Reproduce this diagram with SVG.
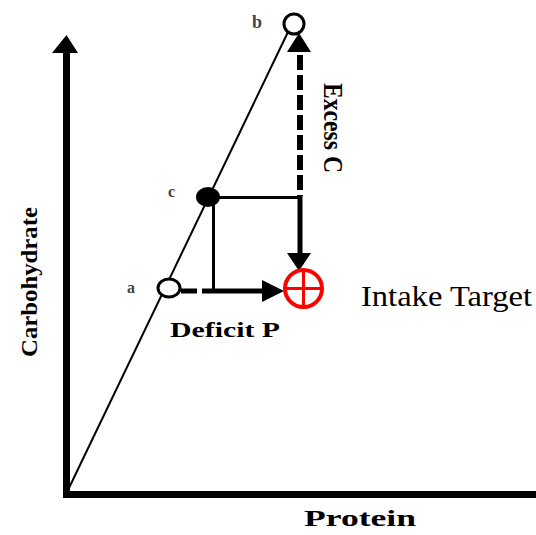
<svg xmlns="http://www.w3.org/2000/svg" width="536" height="535" viewBox="0 0 536 535">
<style>
.bm{font-family:"Liberation Serif","DejaVu Serif",serif;font-weight:bold;fill:#000}
.lbl{font-family:"Liberation Serif","DejaVu Serif",serif;fill:#444}
.ax{stroke:#000;fill:none}
.thin{stroke:#000;stroke-width:2;fill:none}
.red{stroke:#ff0000;fill:none}
</style>
<rect width="536" height="535" fill="#fff"/>
<g id="axes">
<line class="ax" x1="66.5" y1="50" x2="66.5" y2="497" stroke-width="7"/>
<polygon points="66.5,35 52,53 78,53" fill="#000"/>
<line class="ax" x1="63" y1="494.5" x2="536" y2="494.5" stroke-width="7"/>
<text class="bm" transform="translate(37,357) rotate(-90)" font-size="24" textLength="150" lengthAdjust="spacingAndGlyphs">Carbohydrate</text>
<text class="bm" x="304" y="526" font-size="24" textLength="112" lengthAdjust="spacingAndGlyphs">Protein</text>
</g>
<g id="connectors">
<line class="thin" x1="68" y1="490" x2="288" y2="32"/>
<line class="ax" x1="300" y1="55" x2="300" y2="196" stroke-width="6" stroke-dasharray="15 5"/>
<polygon points="299,33 287,52 311,52" fill="#000"/>
<line class="ax" x1="300" y1="196" x2="300" y2="256" stroke-width="5"/>
<polygon points="287,253 311,253 299,271" fill="#000"/>
<line class="ax" x1="214" y1="197.5" x2="300" y2="197.5" stroke-width="3"/>
<line class="ax" x1="213.5" y1="197" x2="213.5" y2="292" stroke-width="3"/>
<line class="ax" x1="181" y1="291" x2="197" y2="291" stroke-width="5"/>
<line class="ax" x1="202" y1="291" x2="264" y2="291" stroke-width="5"/>
<polygon points="262,280 262,302 284,291" fill="#000"/>
<text class="bm" transform="translate(324,83) rotate(90)" font-size="28" textLength="90" lengthAdjust="spacingAndGlyphs">Excess C</text>
<text class="bm" x="170" y="337" font-size="22" textLength="110" lengthAdjust="spacingAndGlyphs">Deficit P</text>
</g>
<g id="point-b">
<circle cx="294" cy="24" r="10" fill="#fff" stroke="#000" stroke-width="3"/>
<text class="lbl" x="252" y="28" font-size="18" font-weight="bold">b</text>
</g>
<g id="point-c">
<ellipse cx="208" cy="197" rx="12" ry="10" fill="#000"/>
<text class="lbl" x="168" y="197" font-size="16" font-weight="bold">c</text>
</g>
<g id="point-a">
<ellipse cx="169" cy="288" rx="11" ry="9" fill="#fff" stroke="#000" stroke-width="3"/>
<text class="lbl" x="127" y="293" font-size="16" font-weight="bold">a</text>
</g>
<g id="target">
<circle class="red" cx="303.5" cy="288.5" r="18.5" stroke-width="4"/>
<line class="red" x1="285" y1="288.5" x2="322" y2="288.5" stroke-width="3"/>
<line class="red" x1="303.5" y1="270" x2="303.5" y2="307" stroke-width="3"/>
<text x="361" y="306" font-family="Liberation Serif, serif" font-size="30" fill="#000" textLength="171" lengthAdjust="spacingAndGlyphs">Intake Target</text>
</g>
</svg>
